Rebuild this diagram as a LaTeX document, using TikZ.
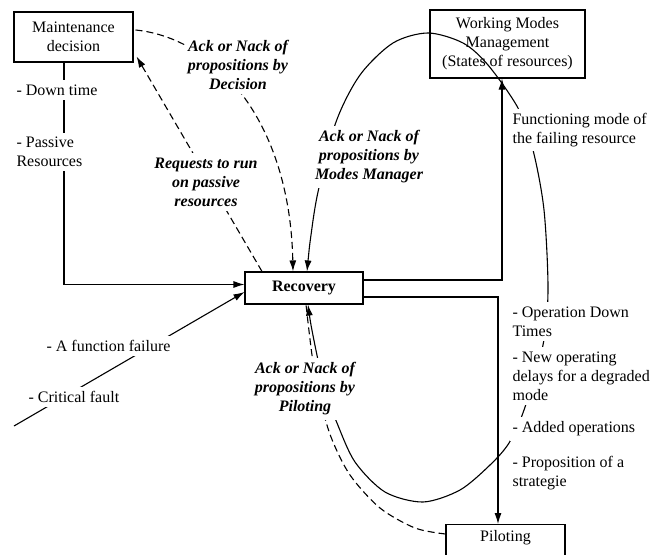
\documentclass[tikz,border=0pt]{standalone}
\usepackage{fontspec}
\setmainfont{Liberation Serif}
\usetikzlibrary{arrows.meta}
\newcommand{\lblfont}{\fontsize{16}{19}\selectfont}

\begin{document}
\begin{tikzpicture}[x=1pt,y=-1pt,line width=1.1pt,
  hd/.tip={Latex[length=11pt,width=7pt]},
  box/.style={draw,font=\lblfont,inner sep=0pt},
  lbl/.style={fill=white,align=left,font=\lblfont,inner xsep=3pt,inner ysep=4.5pt},
  ack/.style={lbl,align=center,font=\lblfont\bfseries\itshape},
  arr/.style={-hd},
  dsh/.style={dash pattern=on 7pt off 4pt}]
\useasboundingbox (0,0) rectangle (653,554);

\node[box,align=center,minimum width=119pt,minimum height=50pt] (maint) at (73.5,37) {Maintenance\\decision};
\node[box,align=center,minimum width=155pt,minimum height=68pt] (wmm) at (507.5,44) {Working Modes\\Management\\(States of resources)};
\node[box,minimum width=118pt,minimum height=32pt,font=\lblfont\bfseries] (rec) at (304,288) {Recovery};
\node[box,anchor=north,minimum width=119pt,text height=17pt,text depth=31pt] (pil) at (505.5,524) {Piloting};

\draw[arr] ([xshift=-9.5pt]maint.south) |- ([yshift=3.5pt]rec.west);
\coordinate (fault) at (14,426);
\draw[arr] (fault) -- ([yshift=-4pt]rec.west);
\draw[arr,dsh] ([xshift=-42pt]rec.north) -- ([shift={(3pt,6pt)}]maint.south east);
\draw[arr,dsh] ([shift={(2pt,7pt)}]maint.east) .. controls (215,38) and (290,120) .. ([xshift=-11pt]rec.north);
\draw[arr] ([yshift=8pt]rec.east) -| ([xshift=-5.5pt]wmm.south);
\draw[arr] ([yshift=-9pt]rec.east) -| ([xshift=-7.5pt]pil.north);
\draw[hd-hd] plot[smooth] coordinates {([xshift=3pt]rec.north) (311,235) (318,192) (336,122) (360,75)
  (393,43) (428,33) (463,43) (488,65) (518,108) (533,150) (544,210) (548,290) (543,345) (524,410)
  (509,443) (490,465) (460,490) (423,502) (385,492) (355,462) (337,423) (325,390) (318,360) (311,325)
  ([xshift=4pt]rec.south)};
\draw[dsh] plot[smooth] coordinates {([yshift=-10pt]pil.north west) (415,528) (380,508) (350,475)
  (331,437) (319,395) (312,355) ([xshift=2pt]rec.south)};

\node[lbl,anchor=west] (down) at (13,90) {- Down time};
\node[lbl,anchor=west] (passive) at (13,152) {- Passive\\Resources};
\node[ack] (ackdec) at (238,65) {Ack or Nack of\\propositions by\\Decision};
\node[ack] (req) at (206,182) {Requests to run\\on passive\\resources};
\node[ack] (ackmod) at (369,157) {Ack or Nack of\\propositions by\\Modes Manager};
\node[lbl,anchor=west] (func) at (509,130) {Functioning mode of\\the failing resource};
\node[lbl,anchor=west] (opdown) at (509,321.5) {- Operation Down\\Times};
\node[lbl,anchor=west] (delay) at (509,376) {- New operating\\delays for a degraded\\mode};
\node[lbl,anchor=west] (added) at (509,429) {- Added operations};
\node[lbl,anchor=west] (strat) at (509,473) {- Proposition of a\\strategie};
\node[lbl,anchor=west] (ffail) at (43,346) {- A function failure};
\node[lbl,anchor=west] (crit) at (25,397) {- Critical fault};
\node[ack] (ackpil) at (305,389) {Ack or Nack of\\propositions by\\Piloting};
\end{tikzpicture}
\end{document}
